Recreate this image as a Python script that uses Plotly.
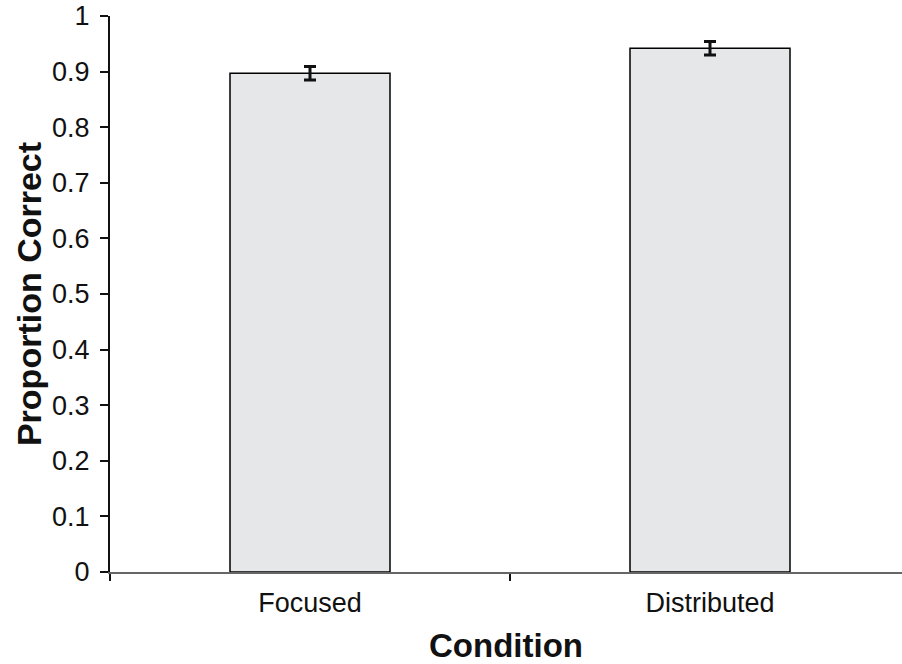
import plotly.graph_objects as go

categories = ["Focused", "Distributed"]
values = [0.897, 0.942]
errors = [0.012, 0.012]
y_ticks = [0, 0.1, 0.2, 0.3, 0.4, 0.5, 0.6, 0.7, 0.8, 0.9, 1]
y_tick_labels = ["0", "0.1", "0.2", "0.3", "0.4", "0.5", "0.6", "0.7", "0.8", "0.9", "1"]

FONT = "Liberation Sans, Arial, Helvetica, sans-serif"

fig = go.Figure(
    go.Bar(
        x=categories,
        y=values,
        width=0.4,
        marker=dict(color="#e6e7e8", line=dict(color="#000000", width=1.5)),
        error_y=dict(type="data", array=errors, visible=True, color="#111111", thickness=3, width=6),
    )
)

fig.update_layout(
    width=902,
    height=664,
    margin=dict(l=110, r=0, t=16, b=92),
    paper_bgcolor="white",
    plot_bgcolor="white",
    showlegend=False,
    font=dict(family=FONT, color="#111111"),
)

fig.update_xaxes(
    type="category",
    range=[-0.5, 1.48],
    automargin=False,
    tickson="boundaries",
    ticks="outside",
    ticklen=7,
    tickwidth=2,
    tickcolor="#111111",
    showline=True,
    linecolor="#666666",
    linewidth=2,
    showgrid=False,
    tickfont=dict(size=27, family=FONT, color="#111111"),
    ticklabelstandoff=6,
    title=dict(text="<b>Condition</b>", font=dict(size=33, family=FONT, color="#111111"), standoff=16),
)

fig.update_yaxes(
    range=[0, 1],
    automargin=False,
    tickvals=y_ticks,
    ticktext=y_tick_labels,
    ticks="outside",
    ticklen=8,
    tickwidth=2,
    tickcolor="#111111",
    showline=True,
    linecolor="#111111",
    linewidth=2,
    showgrid=False,
    zeroline=False,
    ticklabeloverflow="allow",
    tickfont=dict(size=27, family=FONT, color="#111111"),
    ticklabelstandoff=5,
    title=dict(text="<b>Proportion Correct</b>", font=dict(size=34, family=FONT, color="#111111"), standoff=0),
)

fig.write_html(
    "out.html",
    config={"displayModeBar": False},
    post_script="document.body.style.margin='0';",
)
